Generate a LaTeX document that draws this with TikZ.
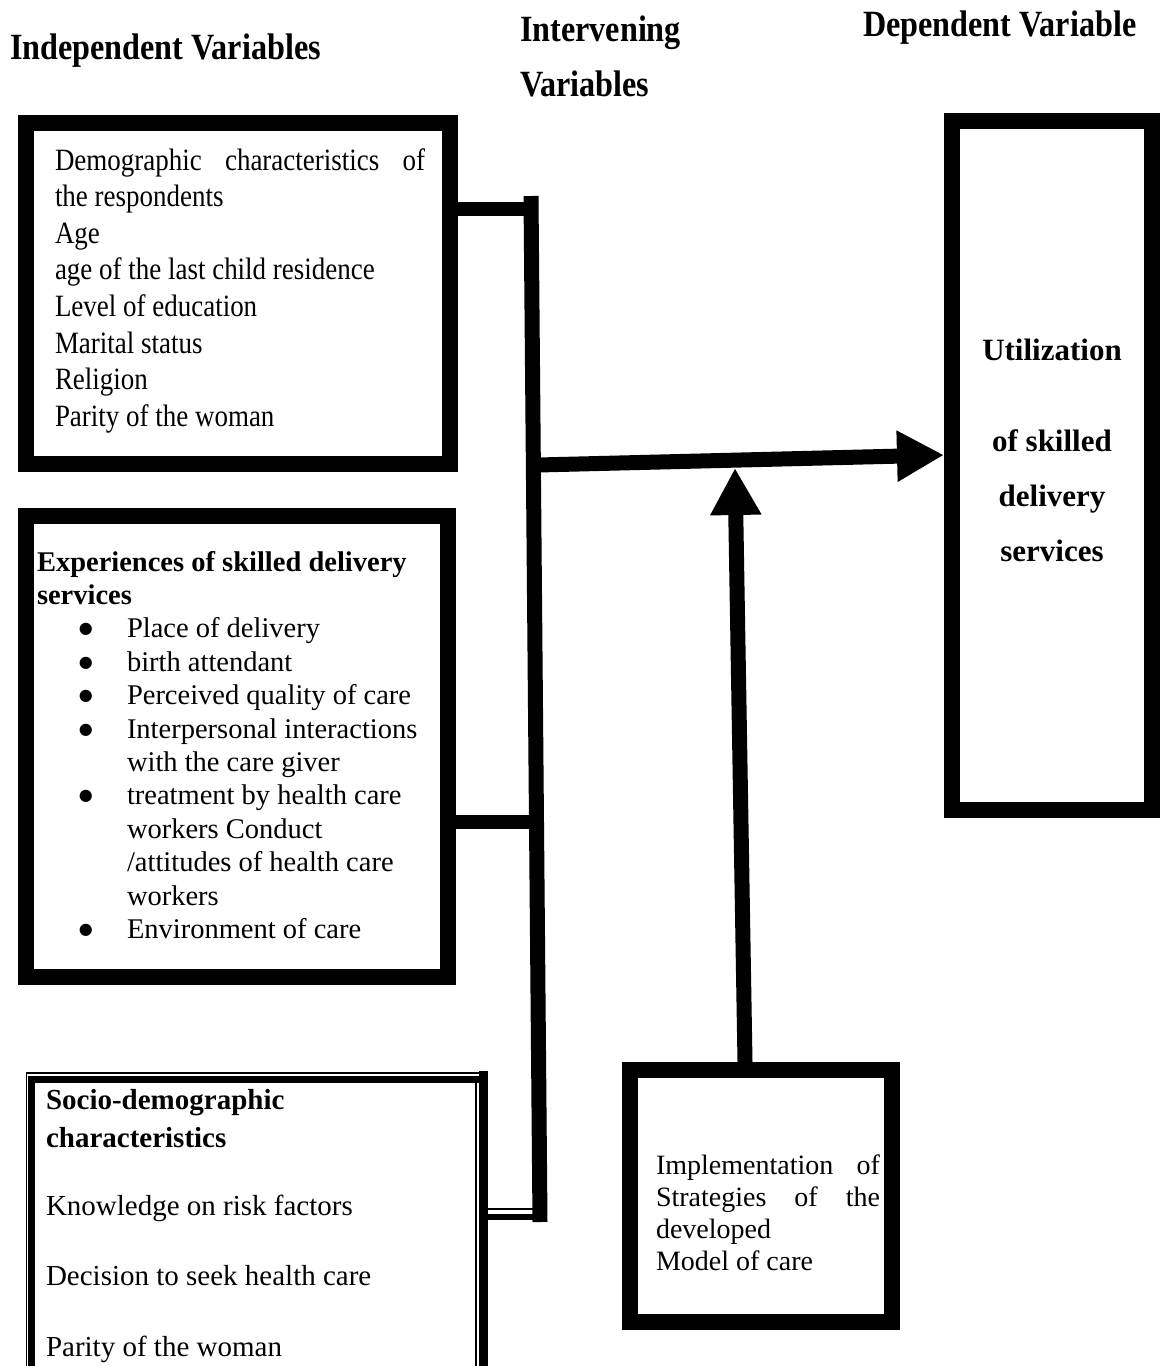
\documentclass[tikz,border=0pt]{standalone}
\usepackage{fontspec}
\setmainfont{Liberation Serif}
\newfontfamily\narrowserif[FakeStretch=0.87]{Liberation Serif}
\newfontfamily\dotfont{DejaVu Sans}
\usetikzlibrary{arrows.meta}
\newcommand{\bigdot}{\raisebox{4pt}{\dotfont\fontsize{16}{16}\selectfont ●}}
\newcommand{\itemline}[1]{\hspace*{42pt}\makebox[48pt][l]{\bigdot}#1}
\begin{document}
\begin{tikzpicture}[x=1pt,y=-1pt,
  frame/.style={draw=black, line width=16pt, fill=white, inner sep=0pt},
  txt/.style={anchor=base west, inner sep=0pt, outer sep=0pt},
  heading/.style={txt, font=\narrowserif\bfseries\fontsize{37}{55}\selectfont},
  link/.style={line width=14pt},
  bus/.style={line width=15pt},
  bigarrow/.style={line width=15pt, -{Triangle[length=47pt,width=48pt]}},
]
\fill[white] (0,0) rectangle (1166,1366);
\useasboundingbox (0,0) rectangle (1166,1366);
\clip (0,0) rectangle (1166,1366);

% column headings
\node[heading] (hIndep) at (10,59) {Independent Variables};
\node[heading] (hInterv) at (520,41) {\parbox[t]{220pt}{Intervening\\Variables}};
\node[heading] (hDep) at (863,36) {Dependent Variable};

% boxes
\node[frame, minimum width=424pt, minimum height=341pt] (demo) at (238,293.5) {};
\node[frame, minimum width=422pt, minimum height=461pt] (exper) at (237,746.5) {};
\node[frame, minimum width=200pt, minimum height=689pt] (util) at (1052,465.5) {};
\node[frame, minimum width=262pt, minimum height=252pt] (impl) at (761,1196) {};
\node[inner sep=0pt, minimum width=462pt, minimum height=330pt] (socio) at (257,1236) {};

% double-ruled border of the socio-demographic box
\draw[line width=1.8pt] (26.5,1400) -- (26.5,1073) -- (480,1073);
\draw[line width=6.5pt] (31.5,1400) -- (31.5,1079.5) -- (479,1079.5);
\draw[line width=9pt] (483.5,1071) -- (483.5,1400);
\draw[line width=1.6pt] (476,1083) -- (476,1400);

% vertical bus joining the independent variables
\coordinate (busTop) at (531,196);
\coordinate (busBot) at (540,1222);
\draw[bus] (busTop) -- (busBot);

\coordinate (j1) at (533,208.5);
\coordinate (j2) at (537,822);
\coordinate (j3a) at (537,1209);
\coordinate (j3b) at (537,1217);
\draw[link] (demo.east |- j1) -- (j1);
\draw[link] (exper.east |- j2) -- (j2);
\draw[line width=2pt] (socio.east |- j3a) -- (j3a);
\draw[line width=6pt] (socio.east |- j3b) -- (j3b);

% arrows
\coordinate (hubOut) at (538,465);
\coordinate (aim) at (900,455);
\draw[bigarrow] (hubOut) -- (util.west |- aim);
\coordinate (upTip) at (735,468);
\draw[bigarrow] ([xshift=-16pt]impl.north) -- (upTip);

% box texts
\node[txt] (demoTxt) at (55,170) {\parbox[t]{370pt}{\narrowserif\fontsize{31}{36.6}\selectfont
Demographic\hfill characteristics\hfill of\\
the respondents\\
Age\\
age of the last child residence\\
Level of education\\
Marital status\\
Religion\\
Parity of the woman}};

\node[txt] (experTxt) at (37,571) {\parbox[t]{400pt}{\fontsize{28.5}{33.4}\selectfont
\textbf{Experiences of skilled delivery}\\
\textbf{services}\\
\itemline{Place of delivery}\\
\itemline{birth attendant}\\
\itemline{Perceived quality of care}\\
\itemline{Interpersonal interactions}\\
\hspace*{90pt}with the care giver\\
\itemline{treatment by health care}\\
\hspace*{90pt}workers Conduct\\
\hspace*{90pt}/attitudes of health care\\
\hspace*{90pt}workers\\
\itemline{Environment of care}}};

\node[txt] (socioTxt) at (46,1109) {\parbox[t]{420pt}{\fontsize{29}{35}\selectfont
\textbf{Socio-demographic}\\[3pt]
\textbf{characteristics}\\[33pt]
Knowledge on risk factors\\[35pt]
Decision to seek health care\\[36pt]
Parity of the woman}};

\node[txt] (implTxt) at (656,1174) {\parbox[t]{224pt}{\fontsize{28}{32.3}\selectfont
Implementation\hfill of\\
Strategies\hfill of\hfill the\\
developed\\
Model of care}};

\node[anchor=base, inner sep=0pt] (utilTxt) at (1052,360) {\parbox[t]{200pt}{\centering\bfseries\fontsize{31}{55}\selectfont
Utilization\\[36pt]
of skilled\\
delivery\\
services}};
\end{tikzpicture}
\end{document}
